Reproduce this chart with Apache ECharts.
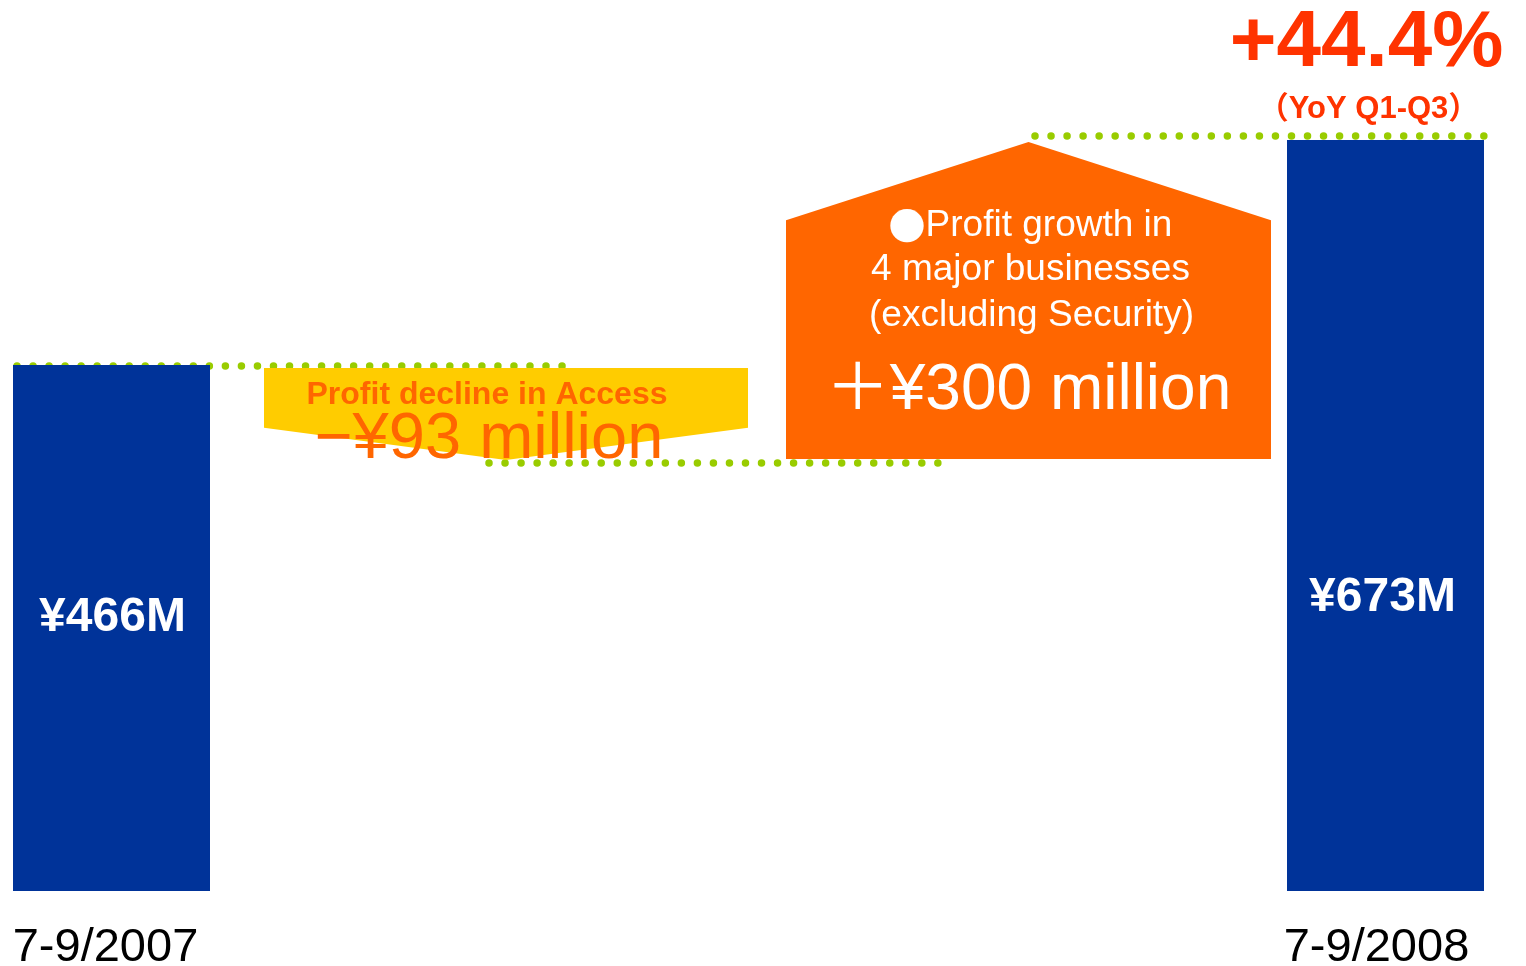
<!DOCTYPE html>
<html><head><meta charset="utf-8">
<script src="https://cdn.jsdelivr.net/npm/echarts@6/dist/echarts.min.js"></script>
<style>html,body{margin:0;padding:0;background:#fff}#c{width:1526px;height:966px}</style>
</head><body><div id="c"></div>
<script>
// ---- data ----
const periods = ['7-9/2007', '7-9/2008'];
const totals = [466, 673];                 // operating profit, ¥ million
const changeNames = ['Profit decline in Access', ['Profit growth in', '4 major businesses', '(excluding Security)']];
const changes = [-93, 300];                // ¥ million
const growthNote = '\uFF08YoY Q1-Q3\uFF09';

// ---- derived levels ----
const level0 = totals[0];
const level1 = level0 + changes[0];
const level2 = level1 + changes[1];

// ---- layout / style (not data) ----
const Y_MIN = -18.3;
const FONT = "'Liberation Sans', Arial, 'Noto Sans CJK JP', sans-serif";
const CJK = "'Noto Sans CJK JP', sans-serif";
const cols = [
  { x0: 13, x1: 210 },     // bar 2007
  { x0: 264, x1: 748 },    // decline shape
  { x0: 786, x1: 1271 },   // growth shape
  { x0: 1287, x1: 1484 }   // bar 2008
];
const connectorSpans = [[17, 565], [489, 941], [1035, 1486]];
const connectorOffset = [1, -3, -4];
const BLUE = '#003399', YELLOW = '#ffcc00', ORANGE = '#ff6600', GREEN = '#99cc00', RED = '#ff3300';

const chart = echarts.init(document.getElementById('c'), null, { renderer: 'canvas' });

function txt(text, x, y, o) {
  return {
    type: 'text', z2: 10,
    style: Object.assign({
      text, x, y, align: 'center', verticalAlign: 'middle',
      fontFamily: FONT, fontSize: 30, fill: '#fff'
    }, o || {})
  };
}

const barData = [[0, totals[0]], [3, totals[1]]];
const labelFrac = [0.519, 0.39];
const labelDx = [1, -3];
const dateDx = [-6, -9];

const option = {
  animation: false,
  grid: { left: 0, right: 0, top: 140, bottom: 75 },
  xAxis: { type: 'value', min: 0, max: 1526, show: false },
  yAxis: { type: 'value', min: Y_MIN, max: level2, show: false, splitLine: { show: false } },
  series: [
    {
      // connectors (dotted)
      type: 'custom', z: 1,
      data: [[level0, 0], [level1, 1], [level2, 2]],
      renderItem: function (params, api) {
        const v = api.value(0), i = api.value(1);
        const s = connectorSpans[i];
        const a = api.coord([s[0], v]), b = api.coord([s[1], v]);
        const d = connectorOffset[i];
        return {
          type: 'line',
          shape: { x1: a[0], y1: a[1] + d, x2: b[0], y2: b[1] + d },
          style: { stroke: GREEN, lineWidth: 7.5, lineDash: [0.01, 16.02], lineCap: 'round' }
        };
      }
    },
    {
      // total bars
      type: 'custom', z: 2,
      data: barData,
      renderItem: function (params, api) {
        const ci = api.value(0), v = api.value(1);
        const c = cols[ci];
        const p0 = api.coord([c.x0, v]), p1 = api.coord([c.x1, Y_MIN]);
        const k = params.dataIndex;
        const cx = (p0[0] + p1[0]) / 2;
        const ly = p1[1] - (p1[1] - p0[1]) * labelFrac[k];
        return {
          type: 'group',
          children: [
            { type: 'rect', shape: { x: p0[0], y: p0[1], width: p1[0] - p0[0], height: p1[1] - p0[1] }, style: { fill: BLUE } },
            txt('\u00A5' + v + 'M', cx + labelDx[k], ly, { fontSize: 48, fontWeight: 'bold' }),
            txt(periods[k], cx + dateDx[k], p1[1] + 57, { fontSize: 47, fill: '#000' })
          ]
        };
      }
    },
    {
      // change shapes
      type: 'custom', z: 3,
      data: [[1, level0, level1], [2, level1, level2]],
      renderItem: function (params, api) {
        const ci = api.value(0), from = api.value(1), to = api.value(2);
        const c = cols[ci];
        const k = params.dataIndex;
        const pA = api.coord([c.x0, from]), pB = api.coord([c.x1, to]);
        const xl = pA[0], xr = pB[0], cx = (xl + xr) / 2;
        if (changes[k] < 0) {
          const top = pA[1] + 3, tip = pB[1] - 6;
          const side = top + (tip - top) * 0.65;
          return {
            type: 'group',
            children: [
              { type: 'polygon', shape: { points: [[xl, top], [xr, top], [xr, side], [cx, tip], [xl, side]] }, style: { fill: YELLOW } },
              txt(changeNames[k], cx - 19, top + 27, { fontSize: 32, fontWeight: 'bold', fill: ORANGE }),
              txt('\u2212\u00A5' + Math.abs(changes[k]) + ' million', cx - 17, top + 72, { fontSize: 65, fill: ORANGE })
            ]
          };
        } else {
          const bottom = pA[1] - 7, peak = pB[1] + 2;
          const eave = peak + (bottom - peak) * 0.247;
          const lines = changeNames[k];
          return {
            type: 'group',
            children: [
              { type: 'polygon', shape: { points: [[xl, bottom], [xl, eave], [cx, peak], [xr, eave], [xr, bottom]] }, style: { fill: ORANGE } },
              {
                type: 'text', z2: 10,
                style: {
                  text: '{d|\u25CF}' + lines[0], x: cx + 2, y: peak + 84, align: 'center', verticalAlign: 'middle',
                  fontFamily: FONT, fontSize: 37, fill: '#fff',
                  rich: { d: { fontFamily: CJK, fontSize: 37, fill: '#fff' } }
                }
              },
              txt(lines[1], cx + 2, peak + 128, { fontSize: 37 }),
              txt(lines[2], cx + 3, peak + 174, { fontSize: 37 }),
              txt('\uFF0B\u00A5' + changes[k] + ' million', cx, peak + 249, { fontSize: 64 })
            ]
          };
        }
      }
    },
    {
      // growth rate headline
      type: 'custom', z: 4,
      data: [[3, totals[0], totals[1]]],
      renderItem: function (params, api) {
        const c = cols[api.value(0)];
        const a = api.value(1), b = api.value(2);
        const p = api.coord([(c.x0 + c.x1) / 2, b]);
        const pct = ((b - a) / a * 100).toFixed(1);
        return {
          type: 'group',
          children: [
            txt('+' + pct + '%', p[0] - 19, p[1] - 96, { fontSize: 80, fontWeight: 'bold', fill: RED }),
            txt(growthNote, p[0] - 17, p[1] - 31, { fontSize: 31, fontWeight: 'bold', fill: RED })
          ]
        };
      }
    }
  ]
};
chart.setOption(option);
</script>
</body></html>
